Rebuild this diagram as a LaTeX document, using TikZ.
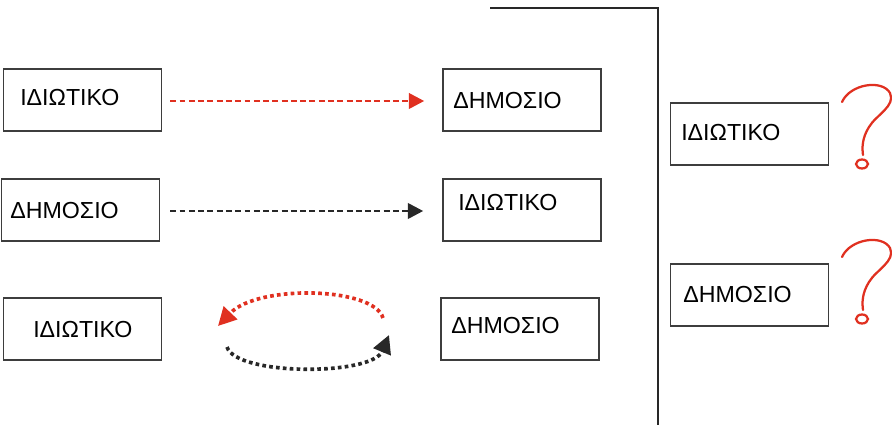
\documentclass[tikz,border=0pt]{standalone}
\usepackage{fontspec}
\setmainfont{Liberation Sans}
\usetikzlibrary{arrows.meta}
\definecolor{redline}{RGB}{224,48,32}
\definecolor{darkline}{RGB}{40,40,40}
\tikzset{
    box/.style={draw=darkline!90, line width=1.1pt, minimum width=158*0.025cm, minimum height=62*0.025cm, inner sep=0pt},
    word/.style={anchor=west, inner sep=0pt, font=\fontsize{16.5}{19}\selectfont},
    dashline/.style={line width=2pt, dash pattern=on 4.2pt off 2.4pt, -{Triangle[length=11pt, width=11pt]}},
    dotline/.style={line width=2.6pt, dash pattern=on 2.6pt off 2.3pt, -{Triangle[length=13pt, width=13pt]}},
    qmark/.style={draw=redline, line width=1.6pt, line cap=round}
}
\begin{document}
\begin{tikzpicture}[x=0.025cm, y=-0.025cm]
    \useasboundingbox (0,0) rectangle (892,425);

    \node[box] (A1) at (82.5, 100) {};
    \node[box] (B1) at (522, 100) {};
    \node[box] (A2) at (80.5, 210) {};
    \node[box] (B2) at (522, 210) {};
    \node[box] (A3) at (82.5, 329) {};
    \node[box] (B3) at (520, 329) {};
    \node[box] (C1) at (749.5, 134) {};
    \node[box] (C2) at (749.5, 295) {};

    \node[word] (tA1) at (20, 98) {ΙΔΙΩΤΙΚΟ};
    \node[word] (tB1) at (453, 101) {ΔΗΜΟΣΙΟ};
    \node[word] (tA2) at (10, 211) {ΔΗΜΟΣΙΟ};
    \node[word] (tB2) at (458, 203) {ΙΔΙΩΤΙΚΟ};
    \node[word] (tA3) at (33, 330) {ΙΔΙΩΤΙΚΟ};
    \node[word] (tB3) at (451, 326) {ΔΗΜΟΣΙΟ};
    \node[word] (tC1) at (681, 133) {ΙΔΙΩΤΙΚΟ};
    \node[word] (tC2) at (683, 295) {ΔΗΜΟΣΙΟ};

    % Draw the arrows between the boxes
    \draw[dashline, redline] ([xshift=8*0.025cm, yshift=-1*0.025cm]A1.east) -- ([xshift=-18*0.025cm, yshift=-1*0.025cm]B1.west);
    \draw[dashline, darkline] ([xshift=10*0.025cm, yshift=-1*0.025cm]A2.east) -- ([xshift=-19*0.025cm, yshift=-1*0.025cm]B2.west);

    % Draw the loop between the bottom boxes
    \coordinate (r1) at (383, 318);
    \coordinate (r2) at (218, 326);
    \coordinate (k1) at (227, 347);
    \coordinate (k2) at (389, 335);
    \draw[dotline, redline] (r1) .. controls (374, 287) and (258, 284) .. (r2);
    \draw[dotline, darkline] (k1) .. controls (236, 376) and (372, 376) .. (k2);

    % Draw the frame line
    \coordinate (f1) at (490, 8);
    \coordinate (f2) at (658, 8);
    \coordinate (f3) at (658, 425);
    \draw[line width=1pt, darkline] (f1) -- (f2) -- (f3);

    % Draw the question marks
    \foreach \dy in {0, 155} {
        \draw[qmark] (842, 102+\dy) .. controls (850, 84+\dy) and (882, 79+\dy) .. (890, 93+\dy)
            .. controls (896, 106+\dy) and (876, 115+\dy) .. (869, 127+\dy)
            .. controls (862, 138+\dy) and (862, 148+\dy) .. (863, 155+\dy);
        \draw[qmark] (862, 164+\dy) ellipse [x radius=6, y radius=4.5];
    }
\end{tikzpicture}
\end{document}
